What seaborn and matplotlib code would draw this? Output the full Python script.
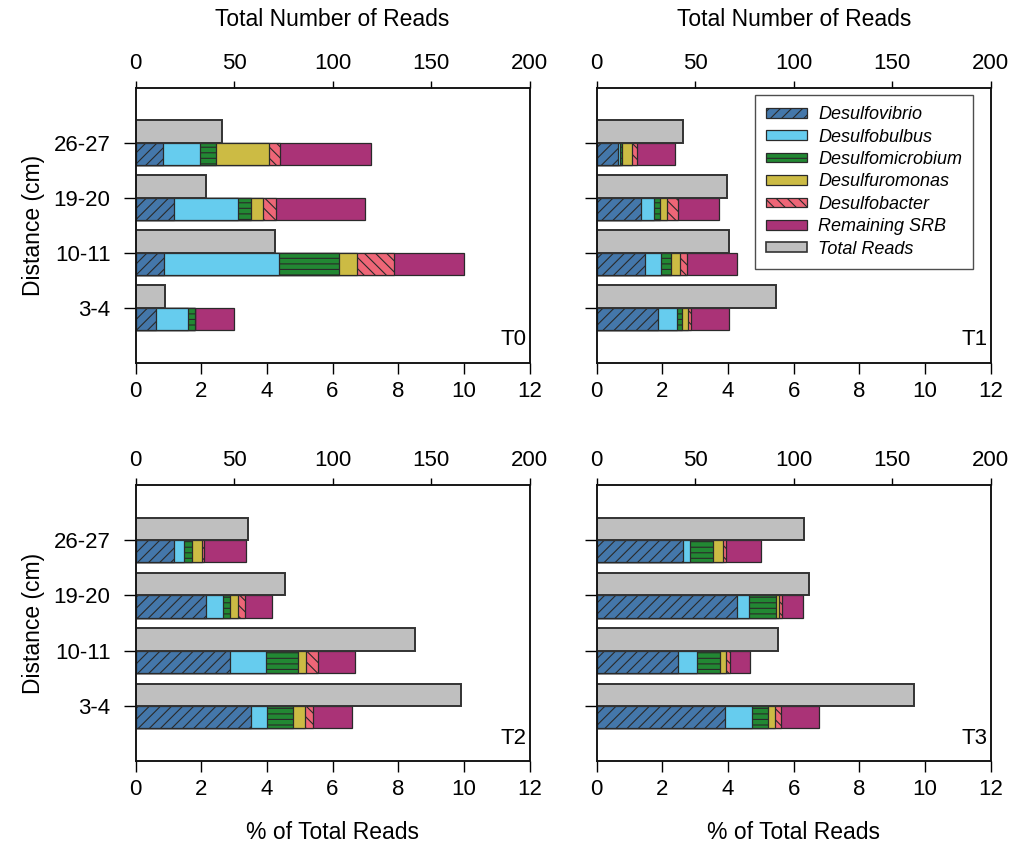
import numpy as np
import pandas as pd
import matplotlib
matplotlib.use("Agg")
import matplotlib.pyplot as plt
from matplotlib.patches import Patch
import seaborn as sns

# ---------------- data ----------------
depths = ["26-27", "19-20", "10-11", "3-4"]
taxa = ["Desulfovibrio", "Desulfobulbus", "Desulfomicrobium",
        "Desulfuromonas", "Desulfobacter", "Remaining SRB"]
panels = ["T0", "T1", "T2", "T3"]

# % of total reads, order: 26-27, 19-20, 10-11, 3-4
t0_desulfovibrio    = [0.85, 1.18, 0.88, 0.62]
t0_desulfobulbus    = [1.11, 1.93, 3.49, 0.97]
t0_desulfomicrobium = [0.50, 0.41, 1.84, 0.22]
t0_desulfuromonas   = [1.60, 0.35, 0.54, 0.00]
t0_desulfobacter    = [0.34, 0.40, 1.12, 0.00]
t0_remaining        = [2.77, 2.71, 2.13, 1.20]
t0_total_reads      = [44, 36, 71, 15]

t1_desulfovibrio    = [0.66, 1.35, 1.46, 1.87]
t1_desulfobulbus    = [0.04, 0.40, 0.51, 0.57]
t1_desulfomicrobium = [0.07, 0.17, 0.28, 0.15]
t1_desulfuromonas   = [0.29, 0.21, 0.30, 0.20]
t1_desulfobacter    = [0.16, 0.35, 0.19, 0.09]
t1_remaining        = [1.17, 1.23, 1.52, 1.16]
t1_total_reads      = [44, 66, 67, 91]

t2_desulfovibrio    = [1.18, 2.15, 2.88, 3.51]
t2_desulfobulbus    = [0.29, 0.51, 1.09, 0.48]
t2_desulfomicrobium = [0.24, 0.22, 0.98, 0.80]
t2_desulfuromonas   = [0.33, 0.23, 0.24, 0.37]
t2_desulfobacter    = [0.06, 0.21, 0.36, 0.25]
t2_remaining        = [1.26, 0.83, 1.14, 1.18]
t2_total_reads      = [57, 76, 142, 165]

t3_desulfovibrio    = [2.63, 4.26, 2.47, 3.91]
t3_desulfobulbus    = [0.22, 0.38, 0.60, 0.81]
t3_desulfomicrobium = [0.69, 0.83, 0.68, 0.51]
t3_desulfuromonas   = [0.31, 0.08, 0.19, 0.20]
t3_desulfobacter    = [0.09, 0.10, 0.13, 0.17]
t3_remaining        = [1.05, 0.64, 0.61, 1.16]
t3_total_reads      = [105, 108, 92, 161]

pct_tick_values = [0, 2, 4, 6, 8, 10, 12]
read_tick_values = [0, 50, 100, 150, 200]

panel_pct = {
    "T0": [t0_desulfovibrio, t0_desulfobulbus, t0_desulfomicrobium,
           t0_desulfuromonas, t0_desulfobacter, t0_remaining],
    "T1": [t1_desulfovibrio, t1_desulfobulbus, t1_desulfomicrobium,
           t1_desulfuromonas, t1_desulfobacter, t1_remaining],
    "T2": [t2_desulfovibrio, t2_desulfobulbus, t2_desulfomicrobium,
           t2_desulfuromonas, t2_desulfobacter, t2_remaining],
    "T3": [t3_desulfovibrio, t3_desulfobulbus, t3_desulfomicrobium,
           t3_desulfuromonas, t3_desulfobacter, t3_remaining],
}
panel_reads = {"T0": t0_total_reads, "T1": t1_total_reads,
               "T2": t2_total_reads, "T3": t3_total_reads}

# ---------------- style ----------------
sns.set_style("ticks")
plt.rcParams["font.family"] = ["Liberation Sans", "DejaVu Sans"]
plt.rcParams["hatch.linewidth"] = 0.8
plt.rcParams["text.color"] = "black"
plt.rcParams["axes.labelcolor"] = "black"
plt.rcParams["xtick.color"] = "black"
plt.rcParams["ytick.color"] = "black"
plt.rcParams["xtick.labelcolor"] = "black"
plt.rcParams["ytick.labelcolor"] = "black"

colors = {"Desulfovibrio": "#4477AA", "Desulfobulbus": "#66CCEE",
          "Desulfomicrobium": "#228833", "Desulfuromonas": "#CCBB44",
          "Desulfobacter": "#EE6677", "Remaining SRB": "#AA3377"}
hatches = {"Desulfovibrio": "///", "Desulfobulbus": "",
           "Desulfomicrobium": "---", "Desulfuromonas": "",
           "Desulfobacter": "\\\\\\", "Remaining SRB": ""}
grey = "#BFBFBF"
edge = "#2a2a2a"
kinds = ["Total Reads", "SRB"]
TICK_FS = 16
LAB_FS = 16.5

fig = plt.figure(figsize=(10.14, 8.49), dpi=100)
W = 394 / 1014
positions = {
    "T0": [135.5 / 1014, 1 - 362.7 / 849, W, 275.0 / 849],
    "T1": [596.7 / 1014, 1 - 362.7 / 849, W, 275.0 / 849],
    "T2": [135.5 / 1014, 1 - 761.3 / 849, W, 276.5 / 849],
    "T3": [596.7 / 1014, 1 - 761.3 / 849, W, 276.5 / 849],
}

for k, name in enumerate(panels):
    ax = fig.add_axes(positions[name])
    ax2 = ax.twiny()
    cum = np.cumsum(np.array(panel_pct[name]), axis=0)
    # stacked bars: draw cumulative ends from the outermost to the innermost
    for i in reversed(range(len(taxa))):
        df = pd.DataFrame({"depth": depths, "value": cum[i], "kind": "SRB"})
        sns.barplot(data=df, x="value", y="depth", hue="kind", hue_order=kinds,
                    order=depths, palette={"Total Reads": grey, "SRB": colors[taxa[i]]},
                    dodge=True, width=0.81, orient="h", saturation=1,
                    errorbar=None, legend=False, edgecolor=edge, linewidth=0.9,
                    hatch=hatches[taxa[i]], ax=ax)
    dft = pd.DataFrame({"depth": depths, "reads": panel_reads[name], "kind": "Total Reads"})
    sns.barplot(data=dft, x="reads", y="depth", hue="kind", hue_order=kinds,
                order=depths, palette={"Total Reads": grey, "SRB": grey},
                dodge=True, width=0.81, orient="h", saturation=1,
                errorbar=None, legend=False, edgecolor="#333333", linewidth=1.4, ax=ax2)

    ax.set_xlim(0, 12)
    ax2.set_xlim(0, 200)
    ax.set_ylim(4, -1)
    ax.set_xticks(pct_tick_values)
    ax2.set_xticks(read_tick_values)
    ax.set_yticks(range(len(depths)))
    left = name in ("T0", "T2")
    ax.set_yticklabels(depths if left else [])
    ax.tick_params(axis="x", direction="out", length=8, width=1, labelsize=TICK_FS, pad=5,
                   bottom=True, top=False, colors="black")
    ax.tick_params(axis="y", direction="out", length=9, width=1, labelsize=TICK_FS, pad=9,
                   left=True, right=False, colors="black")
    ax2.tick_params(axis="x", direction="out", length=5, width=1, labelsize=TICK_FS, pad=5,
                    top=True, bottom=False, colors="black")
    for a in (ax, ax2):
        for s in a.spines.values():
            s.set_visible(True)
            s.set_linewidth(1.1)
            s.set_color("#111111")
    ax.set_ylabel("Distance (cm)" if left else "", fontsize=LAB_FS, labelpad=6, color="black")
    ax.set_xlabel("% of Total Reads" if name in ("T2", "T3") else "", fontsize=LAB_FS,
                  labelpad=15, color="black")
    ax2.set_xlabel("Total Number of Reads" if name in ("T0", "T1") else "", fontsize=LAB_FS,
                   labelpad=19, color="black")
    ax.text(0.993, 0.045, name, transform=ax.transAxes, ha="right", va="bottom",
            fontsize=TICK_FS, color="black")

    if name == "T1":
        handles = [Patch(facecolor=colors[t], edgecolor=edge, hatch=hatches[t], linewidth=0.9)
                   for t in taxa]
        handles.append(Patch(facecolor=grey, edgecolor="#333333", linewidth=1.2))
        labels = taxa + ["Total Reads"]
        leg = ax2.legend(handles, labels, loc="upper right", bbox_to_anchor=(0.955, 0.972),
                         borderaxespad=0, frameon=True, fancybox=False,
                         prop={"style": "italic", "size": 13},
                         handlelength=2.3, handleheight=0.45, handletextpad=0.6,
                         labelspacing=0.3, borderpad=0.6)
        leg.get_frame().set_edgecolor("#222222")
        leg.get_frame().set_linewidth(1.0)
        for t in leg.get_texts():
            t.set_color("black")

fig.savefig("out.png", dpi=100)
